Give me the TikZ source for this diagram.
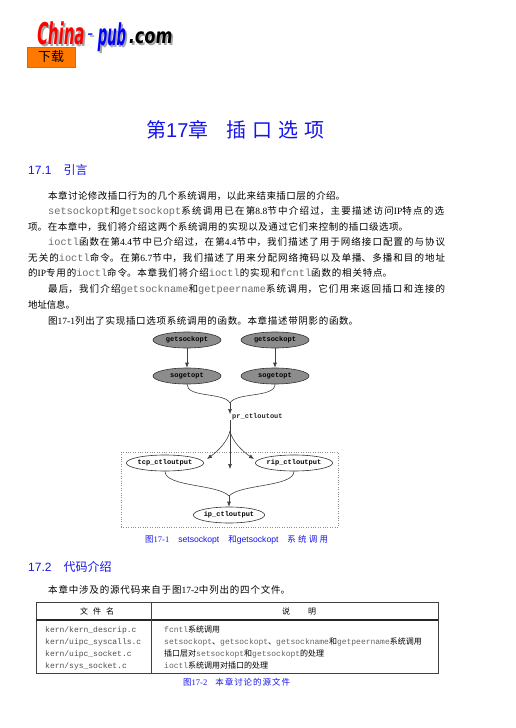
\documentclass[tikz,border=0pt]{standalone}
\usepackage{fontspec}
\usepackage{graphicx}
\usetikzlibrary{matrix,shapes.geometric,arrows.meta}
\setmainfont{Noto Sans CJK SC}
\newfontfamily\monof{Liberation Mono}
\newfontfamily\serf{Liberation Serif}
\newfontfamily\sanf{Liberation Sans}
\newfontfamily\logof{DejaVu Sans}
\XeTeXlinebreaklocale "zh"
\XeTeXlinebreakskip=0pt plus 3pt minus .6pt
\definecolor{headblue}{RGB}{20,20,235}
\newcommand{\mn}[1]{{\monof\color{black!62}#1}}
\newcommand{\mb}[1]{{\fontsize{10.3}{11}\monof\color{black!58}#1}}
\newcommand{\lt}[1]{{\serf #1}}
\newcommand{\tline}[2]{\parbox[b]{#1pt}{\parindent=0pt\parfillskip=0pt\tolerance=10000\hbadness=10000 #2}}
\newcommand{\logopart}[3]{\makebox[0pt][l]{\hspace{2pt}\raisebox{-2pt}{\color{black!35}\scalebox{#1}[#2]{\logof\bfseries #3}}}\scalebox{#1}[#2]{\logof\bfseries #3}}

\begin{document}
\begin{tikzpicture}[x=1pt,y=-1pt,
    textline/.style={anchor=base west,inner sep=0pt,font=\fontsize{9.5}{11}\selectfont,black},
    headline/.style={anchor=base west,inner sep=0pt,font=\fontsize{12}{14}\sanf,headblue},
    caption/.style={anchor=base west,inner sep=0pt,font=\fontsize{8.5}{10}\selectfont,headblue},
    logoletters/.style={anchor=base west,inner sep=0pt,xslant=.1},
    func/.style={ellipse,draw=black!80,semithick,minimum width=68pt,minimum height=16pt,inner sep=0pt,
        font=\fontsize{7}{8}\monof\bfseries},
    shaded/.style={func,fill=black!45},
    conn/.style={draw=black!75,semithick,-{Latex[length=5pt,width=4pt]}},
    plainconn/.style={draw=black!75,semithick}]
    \useasboundingbox (0,0) rectangle (516,728);

    % logo
    \node[logoletters,red] (china) at (36,44) {\logopart{1.5}{3}{China}};
    \node[logoletters,blue] (dash) at (87,37) {\logopart{1.4}{1}{-}};
    \node[logoletters,blue] (pub) at (97,45) {\logopart{1.3}{3}{pub}};
    \node[logoletters,black] (com) at (128,43) {\logopart{1.62}{2.1}{.com}};
    \node[draw=black!50,fill=orange!95!red,minimum width=48pt,minimum height=20pt,inner sep=0pt,
        font=\fontsize{13}{14}\selectfont] (download) at (51,57) {下载};

    % headings
    \node[anchor=base west,inner sep=0pt,font=\fontsize{20}{22}\selectfont,headblue] (chapter) at (146,137)
        {\tline{182}{第{\sanf 17}章\hspace{18pt}插\hspace{6pt}口\hspace{6pt}选\hspace{6pt}项}};
    \node[headline] (sec1) at (28,174) {17.1\hspace{12pt}{\rmfamily 引言}};

    \node[textline] (line1) at (48,199) {\tline{297}{本章讨论修改插口行为的几个系统调用，以此来结束插口层的介绍。}};
    \node[textline] (line2) at (48,214.5) {\tline{396}{\mb{setsockopt}和\mb{getsockopt}系统调用已在第\lt{8.8}节中介绍过，主要描述访问\lt{IP}特点的选}};
    \node[textline] (line3) at (28,230) {\tline{380}{项。在本章中，我们将介绍这两个系统调用的实现以及通过它们来控制的插口级选项。}};
    \node[textline] (line4) at (48,245) {\tline{397}{\mb{ioctl}函数在第\lt{4.4}节中已介绍过，在第\lt{4.4}节中，我们描述了用于网络接口配置的与协议}};
    \node[textline] (line5) at (28,261) {\tline{417}{无关的\mb{ioctl}命令。在第\lt{6.7}节中，我们描述了用来分配网络掩码以及单播、多播和目的地址}};
    \node[textline] (line6) at (28,276) {\tline{364}{的\lt{IP}专用的\mb{ioctl}命令。本章我们将介绍\mb{ioctl}的实现和\mb{fcntl}函数的相关特点。}};
    \node[textline] (line7) at (48,292) {\tline{397}{最后，我们介绍\mb{getsockname}和\mb{getpeername}系统调用，它们用来返回插口和连接的}};
    \node[textline] (line8) at (28,308) {\tline{47}{地址信息。}};
    \node[textline] (line9) at (48,324) {\tline{310}{图\lt{17-1}列出了实现插口选项系统调用的函数。本章描述带阴影的函数。}};

    % call graph
    \node[shaded] (getsock1) at (187,340) {getsockopt};
    \node[shaded] (getsock2) at (275,340) {getsockopt};
    \node[shaded] (soget1) at (187,376) {sogetopt};
    \node[shaded] (soget2) at (275,376) {sogetopt};
    \node[anchor=west,inner sep=0pt,font=\fontsize{7}{8}\monof\bfseries,black!85] (prctl) at (232,417) {pr\_ctloutout};
    \coordinate (prtop) at (230,403);
    \coordinate (prin) at (230,414);
    \coordinate (prout) at (230,420);
    \coordinate (split) at (230,431);
    \coordinate (tcptip) at (207,459);
    \coordinate (midtip) at (230,469);
    \coordinate (riptip) at (254,459);
    \node[draw=black!45,dotted,minimum width=217pt,minimum height=75pt,inner sep=0pt] (layerbox) at (229.5,489.5) {};
    \node[func] (tcp) at (165,463) {tcp\_ctloutput};
    \node[func] (rip) at (294,463) {rip\_ctloutput};
    \node[func] (ipctl) at (229,515) {ip\_ctloutput};
    \coordinate (ipjoin) at (229,496);

    \draw[conn] (getsock1) -- (soget1);
    \draw[conn] (getsock2) -- (soget2);
    \draw[plainconn] (soget1.south) .. controls (187,398) and (224,392) .. (prtop);
    \draw[plainconn] (soget2.south) .. controls (275,398) and (236,392) .. (prtop);
    \draw[conn] (prtop) -- (prin);
    \draw[plainconn] (prout) -- (split);
    \draw[conn] (split) .. controls (228,441) and (218,451) .. (tcptip);
    \draw[conn] (split) -- (midtip);
    \draw[conn] (split) .. controls (232,441) and (242,451) .. (riptip);
    \draw[plainconn] (tcp.south) .. controls (165,487) and (218,484) .. (ipjoin);
    \draw[plainconn] (rip.south) .. controls (294,487) and (240,484) .. (ipjoin);
    \draw[conn] (ipjoin) -- (ipctl);

    \node[caption] (figcap1) at (145,542) {\tline{183}{图\lt{17-1}\hspace{9pt}{\sanf\fontsize{8.6}{9}\selectfont setsockopt}\hspace{9pt}和{\sanf\fontsize{8.6}{9}\selectfont getsockopt}\hspace{9pt}系统调用}};

    % second section
    \node[headline] (sec2) at (28,571) {17.2\hspace{12pt}{\rmfamily 代码介绍}};
    \node[textline] (line10) at (48,593) {\tline{242}{本章中涉及的源代码来自于图\lt{17-2}中列出的四个文件。}};

    % table of files
    \node[draw=black!75,semithick,minimum width=402pt,minimum height=71pt,inner sep=0pt] (filetable) at (237,637.5) {};
    \draw[black!85,line width=1.2pt] (filetable.west |- 0,620) -- (filetable.east |- 0,620);
    \draw[black!75,semithick] (filetable.north -| 151,0) -- (filetable.south -| 151,0);
    \node[font=\fontsize{8}{9}\selectfont,inner sep=0pt] (colname) at (97,611) {文\hspace{5pt}件\hspace{5pt}名};
    \node[font=\fontsize{8}{9}\selectfont,inner sep=0pt] (coldesc) at (299,611) {说\hspace{18pt}明};
    \matrix (files) [matrix of nodes,anchor=north west,inner sep=0pt,row sep=0pt,column sep=0pt,
        nodes={anchor=base west,inner sep=0pt,text height=8pt,text depth=4pt,font=\fontsize{8}{9}\selectfont},
        column 1/.style={nodes={text width=119pt,font=\fontsize{8}{9}\monof,black!70}},
        ] at (45,624)
    {
        kern/kern\_descrip.c & \mn{fcntl}系统调用 \\
        kern/uipc\_syscalls.c & \mn{setsockopt}、\mn{getsockopt}、\mn{getsockname}和\mn{getpeername}系统调用 \\
        kern/uipc\_socket.c & 插口层对\mn{setsockopt}和\mn{getsockopt}的处理 \\
        kern/sys\_socket.c & \mn{ioctl}系统调用对插口的处理 \\
    };
    \node[caption] (figcap2) at (183,685) {\tline{107}{图\lt{17-2}\hspace{8pt}本章讨论的源文件}};
\end{tikzpicture}
\end{document}
